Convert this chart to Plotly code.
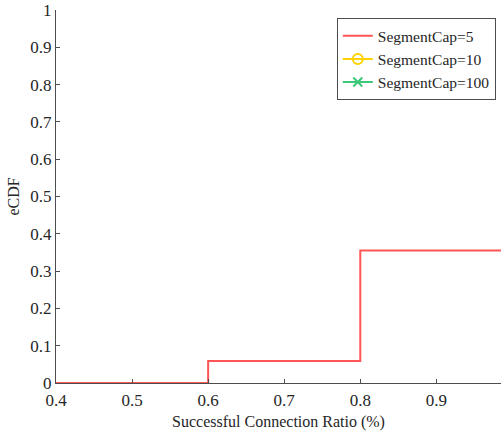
import plotly.graph_objects as go

# Data
x_cap5 = [0.4, 0.6, 0.8, 1.0]
y_cap5 = [0.0, 0.059, 0.355, 1.0]
x_cap10 = [1.0, 1.0]
y_cap10 = [0.0, 1.0]
x_cap100 = [1.0, 1.0]
y_cap100 = [0.0, 1.0]

x_ticks = [0.4, 0.5, 0.6, 0.7, 0.8, 0.9]
y_ticks = [0, 0.1, 0.2, 0.3, 0.4, 0.5, 0.6, 0.7, 0.8, 0.9, 1]

font_family = "Liberation Serif"

fig = go.Figure()
fig.add_trace(go.Scatter(x=x_cap5, y=y_cap5, mode="lines", line_shape="hv",
                         line=dict(color="rgb(255,85,85)", width=2),
                         name="SegmentCap=5"))
fig.add_trace(go.Scatter(x=x_cap10, y=y_cap10, mode="lines+markers", line_shape="hv",
                         line=dict(color="rgb(255,210,0)", width=2),
                         marker=dict(symbol="circle-open", size=10, color="rgb(255,210,0)",
                                     line=dict(width=2)),
                         name="SegmentCap=10"))
fig.add_trace(go.Scatter(x=x_cap100, y=y_cap100, mode="lines+markers", line_shape="hv",
                         line=dict(color="rgb(60,200,120)", width=2),
                         marker=dict(symbol="x-thin-open", size=9, color="rgb(60,200,120)",
                                     line=dict(width=2, color="rgb(60,200,120)")),
                         name="SegmentCap=100"))

axis_common = dict(
    showgrid=False, zeroline=False, showline=True, linecolor="#4d4d4d", linewidth=1,
    ticks="inside", ticklen=4, tickcolor="#4d4d4d",
    tickfont=dict(family=font_family, size=17, color="#262626"),
    mirror=False,
)

fig.update_layout(
    width=501, height=435,
    margin=dict(l=56, r=0, t=10, b=52),
    paper_bgcolor="white", plot_bgcolor="white",
    font=dict(family=font_family, color="#262626"),
    xaxis=dict(range=[0.4, 0.985], tickvals=x_ticks,
               ticktext=[f"{v:g}" for v in x_ticks],
               ticklabelstandoff=2,
               title=dict(text="Successful Connection Ratio (%)",
                          font=dict(family=font_family, size=16, color="#262626"),
                          standoff=6),
               **axis_common),
    yaxis=dict(range=[0, 1], tickvals=y_ticks,
               ticktext=[f"{v:g}" for v in y_ticks],
               title=dict(text="eCDF",
                          font=dict(family=font_family, size=16, color="#262626"),
                          standoff=6),
               **axis_common),
    legend=dict(x=0.631, y=0.978, xanchor="left", yanchor="top",
                bgcolor="white", bordercolor="#4d4d4d", borderwidth=1,
                font=dict(family=font_family, size=15.5, color="#262626"),
                tracegroupgap=0, itemwidth=30),
    showlegend=True,
)

fig.write_html("out.html")
